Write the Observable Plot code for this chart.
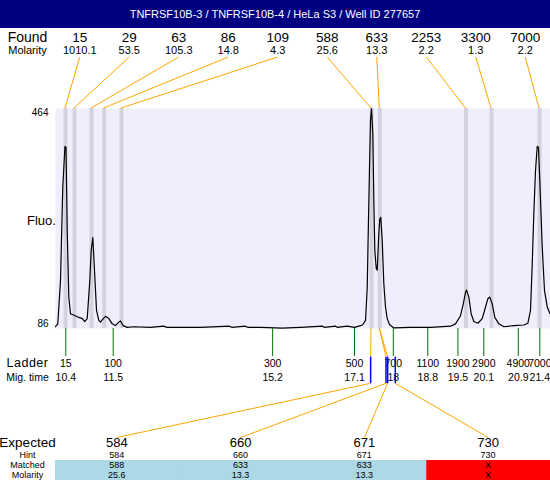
<!DOCTYPE html>
<html><head><meta charset="utf-8">
<script src="https://cdn.jsdelivr.net/npm/d3@7"></script>
<script src="https://cdn.jsdelivr.net/npm/@observablehq/plot@0.6"></script>
<style>
body{margin:0;background:#fff;font-family:"Liberation Sans",Arial,sans-serif;}
#title{width:550px;height:28px;background:#000080;color:#fff;font-size:11px;line-height:28px;text-align:center;}
#chart svg{display:block;}
</style></head><body>
<div id="title">TNFRSF10B-3 / TNFRSF10B-4 / HeLa S3 / Well ID 277657</div>
<div id="chart"></div>
<script>
// Found peaks
const foundSizes = ["15","29","63","86","109","588","633","2253","3300","7000"];
const foundMolarity = ["1010.1","53.5","105.3","14.8","4.3","25.6","13.3","2.2","1.3","2.2"];
const foundTimes = [10.393,10.602,10.996,11.291,11.693,17.494,17.687,19.687,20.279,21.393];
// Ladder
const ladderSizes = ["15","100","300","500","700","1100","1900","2900","4900","7000"];
const ladderMigTimes = ["10.4","11.5","15.2","17.1","18","18.8","19.5","20.1","20.9","21.4"];
const ladderTimes = [10.4,11.5,15.2,17.1,18,18.8,19.5,20.1,20.9,21.4];
// Expected fragments
const expectedSizes = ["584","660","671","730"];
const expectedTimes = [17.486,17.842,17.881,18.058];
const hintSizes = ["584","660","671","730"];
const matchedSizes = ["588","633","633","X"];
const matchedMolarity = ["25.6","13.3","13.3","X"];
const matchedFoundIndex = [5,6,6,null];
// Y ticks
const fluoTicks = [86,464];
// Electropherogram trace
const traceTimes = [10.161,10.168,10.214,10.277,10.330,10.381,10.405,10.433,10.470,10.509,10.556,10.640,10.702,10.781,10.841,10.897,10.957,10.989,11.027,11.066,11.113,11.166,11.205,11.260,11.321,11.398,11.477,11.553,11.630,11.669,11.732,11.825,11.978,12.366,12.667,12.75,13.526,14.199,14.25,14.570,14.62,14.919,15.42,15.847,16.357,16.40,16.659,16.70,16.93,17.1,17.239,17.286,17.356,17.395,17.418,17.448,17.471,17.494,17.525,17.548,17.571,17.604,17.627,17.664,17.687,17.710,17.743,17.780,17.819,17.859,17.912,18.012,18.399,18.864,19.328,19.444,19.560,19.623,19.676,19.700,19.753,19.808,19.869,19.962,20.064,20.140,20.194,20.240,20.296,20.356,20.449,20.565,20.797,21.029,21.122,21.184,21.224,21.261,21.300,21.340,21.370,21.400,21.456,21.509,21.572,21.632,21.648];
const traceFluo = [89,90,94,168,329,399,397,254,140,111,110,107,105,103,98,103,168,220,242,186,117,100,97,102,107,103,94,91,97,99,91,88,89,88,90,88,88,90,88,90,88,88,86.5,88,90,88,90,88,90,88,91,92,100,157,249,363,443,464,421,306,220,189,186,249,274,277,237,163,123,103,93,87,88,88,90,94,108,128,148,152,140,111,98,95,103,123,137,140,128,105,94,89,91,92,95,117,197,283,357,399,397,340,226,151,123,112,111];

const FONT = '"Liberation Sans", Arial, sans-serif';
const ladderLabel = new Map(ladderTimes.map((t,i)=>[t, ladderSizes[i]]));
const migLabel = new Map(ladderTimes.map((t,i)=>[t, ladderMigTimes[i]]));
const trace = traceTimes.map((t,i)=>({t, v: traceFluo[i]}));

const plot = Plot.plot({
  width: 550, height: 452,
  marginTop: 80, marginBottom: 152, marginLeft: 55, marginRight: 0,
  style: {fontFamily: FONT, background: "white", overflow: "visible", color: "black"},
  x: {domain: [10.161, 21.648], label: null},
  y: {domain: [86, 464], label: null},
  marks: [
    Plot.frame({fill: "#eeeefc", stroke: "none"}),
    Plot.ruleX(foundTimes, {stroke: "#d3d3e0", strokeWidth: 4}),
    Plot.line(trace, {x: "t", y: "v", stroke: "black", strokeWidth: 1.2}),
    Plot.axisY([fluoTicks[1]], {tickSize: 0, tickPadding: 7, fontSize: 10, dy: 4, label: null}),
    Plot.axisY([fluoTicks[0]], {tickSize: 0, tickPadding: 7, fontSize: 10, dy: -4.5, label: null}),
    Plot.axisX(ladderTimes, {tickSize: 28, tickPadding: 3, stroke: "#007000", tickFormat: t => ladderLabel.get(t), fontSize: 10.5, label: null}),
    Plot.axisX(ladderTimes, {tickSize: 0, tickPadding: 45, tickFormat: t => migLabel.get(t), fontSize: 10.5, label: null}),
    Plot.text(["Fluo."], {frameAnchor: "left", dx: -28.5, dy: 2, fontSize: 13})
  ]
});
document.getElementById("chart").append(plot);

// Annotation layers positioned with the plot's own x scale
const sx = plot.scale("x");
const xPos = d3.scaleLinear(sx.domain, sx.range);
const [L, R] = sx.range;
const FRAME_TOP = 80, FRAME_BOTTOM = 300;
const svg = d3.select(plot);
const ann = svg.append("g").attr("font-family", FONT).attr("fill", "black").attr("text-anchor", "middle");
const leftC = L / 2;

function line(g, x1, y1, x2, y2, color, w = 1) {
  g.append("line").attr("x1", x1).attr("y1", y1).attr("x2", x2).attr("y2", y2)
    .attr("stroke", color).attr("stroke-width", w);
}
function text(g, x, y, s, size, extra = {}) {
  const t = g.append("text").attr("x", x).attr("y", y).attr("font-size", size).text(s);
  for (const k in extra) t.attr(k, extra[k]);
  return t;
}

// Found row
const foundBand = d3.scaleBand(d3.range(foundSizes.length), [L, R]);
const fc = i => foundBand(i) + foundBand.bandwidth() / 2;
foundTimes.forEach((t, i) => line(ann, fc(i), 29, xPos(t), FRAME_TOP, "orange"));
text(ann, leftC, 13.5, "Found", 14);
text(ann, leftC, 25.7, "Molarity", 11);
foundSizes.forEach((s, i) => text(ann, fc(i), 13.5, s, 13.5));
foundMolarity.forEach((s, i) => text(ann, fc(i), 25.7, s, 11));

// Ladder row titles
text(ann, leftC, 338.7, "Ladder", 12.5, {"letter-spacing": "0.5px"});
text(ann, leftC, 352.7, "Mig. time", 10.5);

// Expected table
const colBand = d3.scaleBand(d3.range(expectedSizes.length), [L, R]);
const cc = i => colBand(i) + colBand.bandwidth() / 2;
expectedSizes.forEach((s, i) => {
  ann.append("rect").attr("x", colBand(i)).attr("y", 432).attr("width", colBand.bandwidth() + 0.5).attr("height", 20)
    .attr("fill", matchedFoundIndex[i] != null ? "#add8e6" : "#ff0000");
});
expectedTimes.forEach((t, i) => {
  const xe = xPos(t);
  const fi = matchedFoundIndex[i];
  if (fi != null) line(ann, xPos(foundTimes[fi]), FRAME_BOTTOM, xe, 328.7, "orange");
  line(ann, xe, 328.7, xe, 355.3, "#0000ff", 1.5);
  line(ann, xe, 355.3, cc(i), 409.5, "orange");
});
const rowY = {exp: 418.5, hint: 429.5, matched: 440, mol: 450.4};
text(ann, leftC, rowY.exp, "Expected", 13.5);
text(ann, leftC, rowY.hint, "Hint", 9);
text(ann, leftC, rowY.matched, "Matched", 9);
text(ann, leftC, rowY.mol, "Molarity", 9);
expectedSizes.forEach((s, i) => text(ann, cc(i), rowY.exp, s, 13));
hintSizes.forEach((s, i) => text(ann, cc(i), rowY.hint, s, 9));
matchedSizes.forEach((s, i) => text(ann, cc(i), rowY.matched, s, 9));
matchedMolarity.forEach((s, i) => text(ann, cc(i), rowY.mol, s, 9));
</script>
</body></html>
